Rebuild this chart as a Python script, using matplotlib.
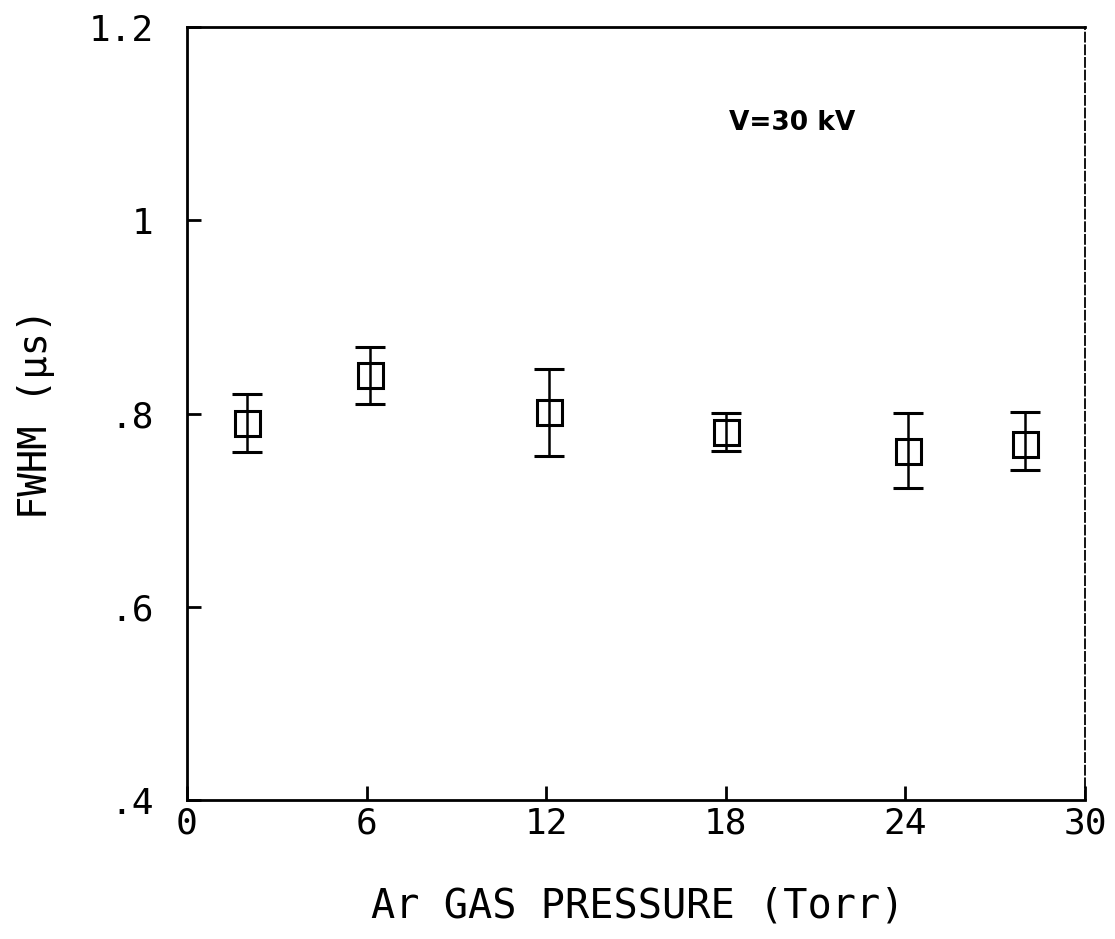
import numpy as np
import matplotlib
matplotlib.use("Agg")
import matplotlib.pyplot as plt

# data
pressure = [2.0, 6.1, 12.1, 18.0, 24.1, 28.0]
fwhm = [0.790, 0.840, 0.802, 0.781, 0.761, 0.768]
err_hi = [0.820, 0.869, 0.846, 0.801, 0.801, 0.802]
err_lo = [0.760, 0.810, 0.756, 0.761, 0.723, 0.742]

xticks = [0, 6, 12, 18, 24, 30]
yticks = [0.4, 0.6, 0.8, 1.0, 1.2]
ytick_labels = [".4", ".6", ".8", "1", "1.2"]

fwhm = np.array(fwhm)
yerr = [fwhm - np.array(err_lo), np.array(err_hi) - fwhm]

fig = plt.figure(figsize=(11.15, 9.39), dpi=100)
ax = fig.add_axes([0.1677, 0.148, 0.8054, 0.8232])

ax.errorbar(pressure, fwhm, yerr=yerr, fmt="s", color="black",
            mfc="none", mec="black", ms=18, mew=2.2,
            ecolor="black", elinewidth=1.8, capsize=10.5, capthick=2.8)

ax.set_xlim(0, 30)
ax.set_ylim(0.4, 1.2)
ax.set_xticks(xticks)
ax.set_yticks(yticks)
ax.set_yticklabels(ytick_labels)

mono = "DejaVu Sans Mono"
for lab in ax.get_xticklabels() + ax.get_yticklabels():
    lab.set_fontfamily(mono)
    lab.set_fontsize(26)

ax.tick_params(direction="in", length=10, width=2)
ax.tick_params(axis="x", pad=5)
ax.tick_params(axis="y", pad=24)
for s in ax.spines.values():
    s.set_linewidth(2)
ax.spines["right"].set_linewidth(1.3)
ax.spines["right"].set_linestyle((0, (5, 2)))

ax.set_xlabel("Ar GAS PRESSURE (Torr)", fontfamily=mono, fontsize=29)
ax.set_ylabel("FWHM (\u03bcs)", fontfamily=mono, fontsize=28)
ax.xaxis.set_label_coords(0.502, -0.112)
ax.yaxis.set_label_coords(-0.147, 0.5)

ax.text(20.2, 1.1005, "V=30 kV", fontsize=19, fontweight="bold",
        fontfamily="DejaVu Sans", ha="center", va="center")

fig.savefig("out.png", dpi=100)
